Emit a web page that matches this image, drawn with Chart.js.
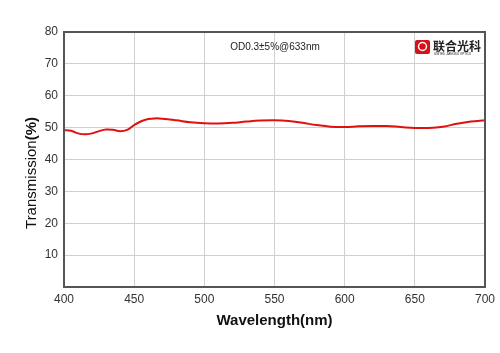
<!DOCTYPE html>
<html>
<head>
<meta charset="utf-8">
<script src="https://cdn.jsdelivr.net/npm/chart.js@4/dist/chart.umd.min.js"></script>
<style>
  html, body { margin: 0; padding: 0; background: #fff; }
  #wrap { width: 500px; height: 353px; position: relative; }
</style>
</head>
<body>
<div id="wrap"><canvas id="myChart" width="500" height="353"></canvas></div>
<script>
const wavelengths = [400,405,410,415,420,425,430,435,440,445,450,455,460,465,470,480,490,500,510,520,530,540,550,560,570,580,590,600,610,620,630,640,650,660,670,680,690,700];
const transmission = [49.2,49.0,48.2,47.9,48.2,48.9,49.4,49.3,48.9,49.3,50.8,52.0,52.7,52.9,52.8,52.3,51.7,51.4,51.3,51.5,51.9,52.2,52.3,52.1,51.5,50.8,50.3,50.2,50.4,50.5,50.5,50.2,49.9,49.9,50.3,51.2,51.9,52.3];
const xTicks = [400,450,500,550,600,650,700];
const yTicks = [10,20,30,40,50,60,70,80];
const noteText = 'OD0.3±5%@633nm';
const logoText = '联合光科';

const points = wavelengths.map((w, i) => ({ x: w, y: transmission[i] }));

// box around plot, titles, note and logo
const extras = {
  id: 'extras',
  afterDraw(chart) {
    const c = chart.ctx;
    const a = chart.chartArea;
    c.save();
    c.strokeStyle = '#555';
    c.lineWidth = 2;
    c.strokeRect(a.left, a.top, a.right - a.left, a.bottom - a.top);

    // x title
    c.fillStyle = '#111';
    c.font = 'bold 15px "Liberation Sans", Arial, sans-serif';
    c.textAlign = 'center';
    c.textBaseline = 'middle';
    c.fillText('Wavelength(nm)', (a.left + a.right) / 2, 321);

    // y title
    c.translate(32, 173);
    c.rotate(-Math.PI / 2);
    c.font = '15px "Liberation Sans", Arial, sans-serif';
    const w1 = c.measureText('Transmission').width;
    c.font = 'bold 15px "Liberation Sans", Arial, sans-serif';
    const w2 = c.measureText('(%)').width;
    c.textAlign = 'left';
    c.font = '15px "Liberation Sans", Arial, sans-serif';
    c.fillText('Transmission', -(w1 + w2) / 2, 0);
    c.font = 'bold 15px "Liberation Sans", Arial, sans-serif';
    c.fillText('(%)', -(w1 + w2) / 2 + w1, 0);
    c.restore();

    // note
    c.save();
    c.fillStyle = '#222';
    c.font = '10px "Liberation Sans", Arial, sans-serif';
    c.textAlign = 'center';
    c.textBaseline = 'middle';
    c.fillText(noteText, 275, 47);

    // logo
    c.fillStyle = '#d7101a';
    c.beginPath();
    c.roundRect(415, 40, 15, 14, 2);
    c.fill();
    c.strokeStyle = '#fff';
    c.lineWidth = 1.5;
    c.beginPath();
    c.arc(422.5, 46.5, 4, 0, Math.PI * 2);
    c.stroke();
    c.fillStyle = '#222';
    c.font = 'bold 12px "Noto Sans CJK SC", sans-serif';
    c.textAlign = 'left';
    c.fillText(logoText, 433, 46);
    c.font = '3px "Liberation Sans", Arial, sans-serif';
    c.fillText('UNITED JIANGSU OPTICS', 434, 54);
    c.restore();
  }
};

const ctx = document.getElementById('myChart').getContext('2d');
const myChart = new Chart(ctx, {
  type: 'line',
  data: {
    datasets: [{
      data: points,
      borderColor: '#e01010',
      borderWidth: 2,
      pointRadius: 0,
      tension: 0.4,
      fill: false
    }]
  },
  options: {
    responsive: false,
    animation: false,
    layout: { padding: { left: 0, right: 15, top: 32, bottom: 0 } },
    plugins: { legend: { display: false }, tooltip: { enabled: false } },
    scales: {
      x: {
        type: 'linear',
        min: 400,
        max: 700,
        afterBuildTicks: s => { s.ticks = xTicks.map(v => ({ value: v })); },
        afterFit: s => { s.height = 66; },
        grid: { color: '#d0d0d0', lineWidth: 1, drawTicks: false },
        border: { color: '#555', width: 2 },
        ticks: { color: '#333', padding: 5, font: { size: 12, family: '"Liberation Sans", Arial, sans-serif' } }
      },
      y: {
        min: 0,
        max: 80,
        afterBuildTicks: s => { s.ticks = [0].concat(yTicks).map(v => ({ value: v })); },
        afterFit: s => { s.width = 64; },
        grid: { color: '#d0d0d0', lineWidth: 1, drawTicks: false },
        border: { color: '#555', width: 2 },
        ticks: {
          color: '#333', padding: 6,
          font: { size: 12, family: '"Liberation Sans", Arial, sans-serif' },
          callback: v => v === 0 ? '' : v
        }
      }
    }
  },
  plugins: [extras]
});
</script>
</body>
</html>
